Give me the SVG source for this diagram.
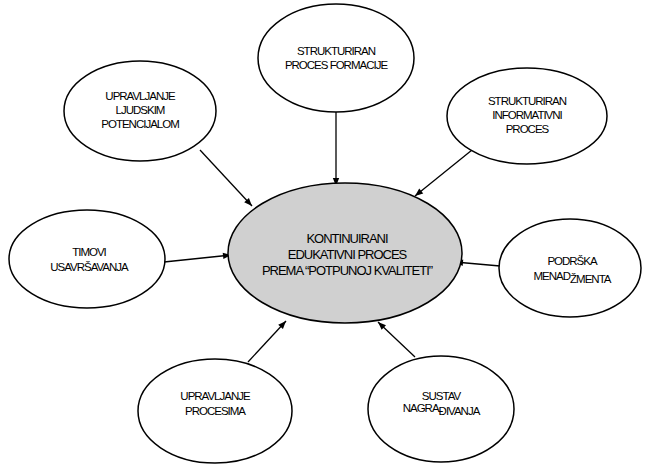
<svg xmlns="http://www.w3.org/2000/svg" width="646" height="464" viewBox="0 0 646 464">
<defs>
<marker id="ah" viewBox="0 0 10 10" refX="10" refY="5" markerWidth="10" markerHeight="8" markerUnits="userSpaceOnUse" orient="auto">
<path d="M0,1 L10,5 L0,9 Z" fill="#000"/>
</marker>
<style>
.n{fill:#fff;stroke:#000;stroke-width:1.5}
.c{fill:#d0d0d0;stroke:#000;stroke-width:1.5}
.t{font-family:"Liberation Sans",Arial,sans-serif;font-size:11.5px;letter-spacing:-1px;fill:#000;text-anchor:middle}
.tc{font-family:"Liberation Sans",Arial,sans-serif;font-size:13px;letter-spacing:-1px;fill:#000;text-anchor:middle}
.e{stroke:#000;stroke-width:1.3;fill:none;marker-end:url(#ah)}
</style>
</defs>
<rect width="646" height="464" fill="#fff"/>
<g id="connectors">
<line class="e" x1="200" y1="150" x2="252" y2="206"/>
<line class="e" x1="336" y1="112" x2="336" y2="186"/>
<line class="e" x1="472" y1="150" x2="415" y2="196"/>
<line class="e" x1="164" y1="262" x2="231" y2="255"/>
<line class="e" x1="500" y1="266" x2="455" y2="262"/>
<line class="e" x1="248" y1="362" x2="286" y2="321"/>
<line class="e" x1="415" y1="357" x2="378" y2="322"/>
</g>
<g id="central">
<ellipse class="c" cx="345" cy="253" rx="117" ry="70"/>
<text class="tc" x="347" y="243">KONTINUIRANI</text>
<text class="tc" x="347" y="259">EDUKATIVNI PROCES</text>
<text class="tc" x="347" y="275">PREMA “POTPUNOJ KVALITETI”</text>
</g>
<g id="formacija">
<ellipse class="n" cx="336" cy="58" rx="78" ry="54"/>
<text class="t" x="336" y="55">STRUKTURIRAN</text>
<text class="t" x="336" y="69">PROCES FORMACIJE</text>
</g>
<g id="ljudski">
<ellipse class="n" cx="140" cy="111" rx="76" ry="50"/>
<text class="t" x="140" y="100">UPRAVLJANJE</text>
<text class="t" x="140" y="114">LJUDSKIM</text>
<text class="t" x="140" y="128">POTENCIJALOM</text>
</g>
<g id="informativni">
<ellipse class="n" cx="527" cy="116" rx="80" ry="48"/>
<text class="t" x="527" y="105">STRUKTURIRAN</text>
<text class="t" x="527" y="119">INFORMATIVNI</text>
<text class="t" x="527" y="133">PROCES</text>
</g>
<g id="timovi">
<ellipse class="n" cx="87" cy="259" rx="78" ry="49"/>
<text class="t" x="89" y="256">TIMOVI</text>
<text class="t" x="89" y="271">USAVRŠAVANJA</text>
</g>
<g id="podrska">
<ellipse class="n" cx="570" cy="268" rx="71" ry="49"/>
<text class="t" x="572" y="265">PODRŠKA</text>
<text class="t" x="572" y="280">MENAD<tspan dy="3">ŽMENTA</tspan></text>
</g>
<g id="procesi">
<ellipse class="n" cx="215" cy="411" rx="77" ry="52"/>
<text class="t" x="215" y="400">UPRAVLJANJE</text>
<text class="t" x="215" y="415">PROCESIMA</text>
</g>
<g id="nagradivanje">
<ellipse class="n" cx="441" cy="409" rx="73" ry="53"/>
<text class="t" x="441" y="400">SUSTAV</text>
<text class="t" x="441" y="412">NAGRA<tspan dy="3">ĐIVANJA</tspan></text>
</g>
</svg>
